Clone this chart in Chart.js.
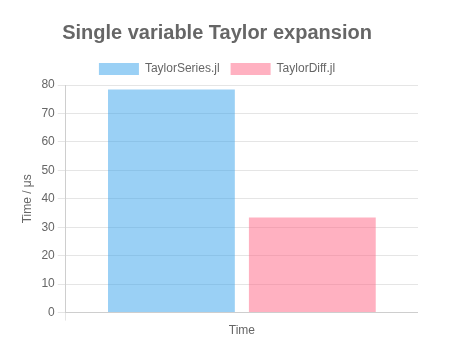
<!DOCTYPE html>
<html>
<head>
<meta charset="utf-8">
<script src="https://cdn.jsdelivr.net/npm/chart.js@4"></script>
<style>
    body { margin: 0; background: #fff; }
    #wrap { position: absolute; left: 16px; top: 9px; width: 402px; height: 332px; }
</style>
</head>
<body>
<div id="wrap"><canvas id="barChart"></canvas></div>
<script>
const categories = ['Time'];
const taylorSeries = [78.4];
const taylorDiff = [33.4];

Chart.defaults.font.family = '"Liberation Sans", Arial, sans-serif';
Chart.defaults.color = '#666';

const ctx = document.getElementById('barChart').getContext('2d');
new Chart(ctx, {
    type: 'bar',
    data: {
        labels: categories,
        datasets: [
            { label: 'TaylorSeries.jl', data: taylorSeries, backgroundColor: 'rgba(54, 162, 235, 0.5)', borderWidth: 0 },
            { label: 'TaylorDiff.jl', data: taylorDiff, backgroundColor: 'rgba(255, 99, 132, 0.5)', borderWidth: 0 }
        ]
    },
    options: {
        responsive: true,
        maintainAspectRatio: false,
        animation: false,
        scales: {
            x: {
                grid: {
                    // only the left edge line, with its tick mark below the axis
                    color: c => c.index === 0 ? 'rgba(0,0,0,0.1)' : 'rgba(0,0,0,0)',
                    tickLength: 8
                }
            },
            y: {
                min: 0,
                max: 80,
                ticks: { stepSize: 10 },
                title: { display: true, text: 'Time / μs' }
            }
        },
        plugins: {
            title: {
                display: true,
                text: 'Single variable Taylor expansion',
                font: { size: 20, weight: 'bold' },
                color: '#666',
                padding: { top: 12, bottom: 7 }
            },
            legend: { labels: { boxWidth: 40, padding: 11 } }
        }
    }
});
</script>
</body>
</html>
